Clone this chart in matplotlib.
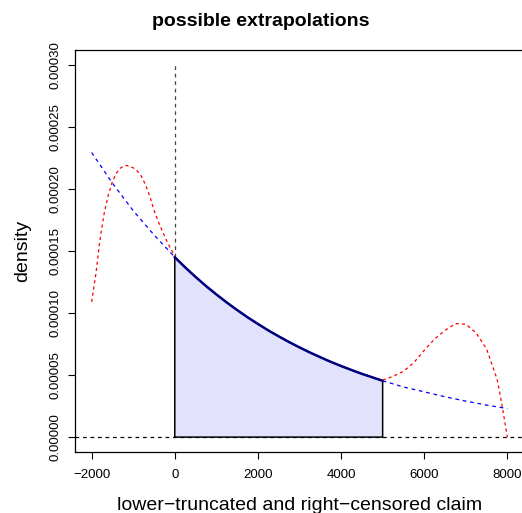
import matplotlib
matplotlib.use("Agg")
import matplotlib.pyplot as plt
import numpy as np

plt.rcParams['font.family'] = ['Liberation Sans', 'DejaVu Sans']

# fitted density inside observed range (0 .. 5000)
x_mid = [0, 250, 500, 750, 1000, 1250, 1500, 1750, 2000, 2250, 2500, 2750, 3000,
         3250, 3500, 3750, 4000, 4250, 4500, 4750, 5000]
y_mid = [1.450e-4, 1.368e-4, 1.291e-4, 1.218e-4, 1.150e-4, 1.085e-4, 1.024e-4, 0.966e-4,
         0.912e-4, 0.860e-4, 0.812e-4, 0.766e-4, 0.723e-4, 0.682e-4, 0.644e-4, 0.607e-4,
         0.573e-4, 0.541e-4, 0.510e-4, 0.482e-4, 0.454e-4]

# blue extrapolation (left and right)
x_blue_left = [-2000, -1500, -1000, -500, 0]
y_blue_left = [2.294e-4, 2.047e-4, 1.825e-4, 1.630e-4, 1.450e-4]
x_blue_right = [5000, 5500, 6000, 6500, 7000, 7500, 8000]
y_blue_right = [0.454e-4, 0.404e-4, 0.365e-4, 0.325e-4, 0.290e-4, 0.258e-4, 0.230e-4]

# red extrapolation (left and right)
x_red_left = [-2000, -1900, -1800, -1700, -1600, -1500, -1400, -1300, -1200, -1100, -1000,
              -900, -800, -700, -600, -500, -400, -300, -200, -100, 0]
y_red_left = [1.09e-4, 1.31e-4, 1.59e-4, 1.80e-4, 1.95e-4, 2.06e-4, 2.13e-4, 2.17e-4,
              2.19e-4, 2.185e-4, 2.17e-4, 2.145e-4, 2.10e-4, 2.03e-4, 1.94e-4, 1.83e-4,
              1.74e-4, 1.66e-4, 1.585e-4, 1.52e-4, 1.46e-4]
x_red_right = [5000, 5250, 5500, 5750, 6000, 6250, 6500, 6750, 7000, 7250, 7500, 7750,
               7800, 7900, 8000]
y_red_right = [0.46e-4, 0.49e-4, 0.53e-4, 0.60e-4, 0.70e-4, 0.79e-4, 0.86e-4, 0.915e-4,
               0.91e-4, 0.84e-4, 0.71e-4, 0.47e-4, 0.39e-4, 0.20e-4, 0.0]

x_ticks = [-2000, 0, 2000, 4000, 6000, 8000]
y_ticks = [0.0, 0.00005, 0.00010, 0.00015, 0.00020, 0.00025, 0.00030]
y_ticklabels = ["0.00000", "0.00005", "0.00010", "0.00015", "0.00020", "0.00025", "0.00030"]

fig = plt.figure(figsize=(5.22, 5.13), dpi=100)
ax = fig.add_axes([75/522, 61/513, 449/522, 402/513])

ax.set_xlim(-2400, 8400)
ax.set_ylim(-0.000012, 0.000312)

# horizontal dashed baseline
ax.axhline(0, color='black', lw=0.9, ls=(0, (3, 3)), zorder=1)
# vertical dashed line at truncation point
ax.plot([0, 0], [0, 0.0003], color='#444444', lw=0.9, ls=(0, (3, 3)), zorder=1)

# shaded region
poly_x = [x_mid[0]] + x_mid + [x_mid[-1]]
poly_y = [0.0] + y_mid + [0.0]
ax.fill(poly_x, poly_y, facecolor='#E2E2FC', edgecolor='black', lw=1.1, zorder=2)
ax.plot(x_mid, y_mid, color='#000080', lw=1.8, zorder=3)

# extrapolations
ax.plot(x_blue_left, y_blue_left, color='blue', lw=0.9, ls=(0, (3, 3)), zorder=4)
ax.plot(x_blue_right, y_blue_right, color='blue', lw=0.9, ls=(0, (3, 3)), zorder=4)
ax.plot(x_red_left, y_red_left, color='red', lw=0.9, ls=(0, (2.5, 2.5)), zorder=4)
ax.plot(x_red_right, y_red_right, color='red', lw=0.9, ls=(0, (2.5, 2.5)), zorder=4)

ax.set_xticks(x_ticks)
ax.set_xticklabels([str(v).replace('-', '\u2212') for v in x_ticks])
ax.set_yticks(y_ticks)
ax.set_yticklabels(y_ticklabels, rotation=90, va='center')
ax.tick_params(axis='x', direction='out', length=5, width=0.8, labelsize=9.5, pad=7)
ax.tick_params(axis='y', direction='out', length=5, width=0.8, labelsize=9.5, pad=5)
for s in ax.spines.values():
    s.set_linewidth(0.9)

ax.set_xlabel("lower\u2212truncated and right\u2212censored claim", fontsize=14, labelpad=12)
ax.set_ylabel("density", fontsize=14, labelpad=13)
fig.suptitle("possible extrapolations", fontsize=14, fontweight='bold', y=0.975)

fig.savefig("out.png", dpi=100)
